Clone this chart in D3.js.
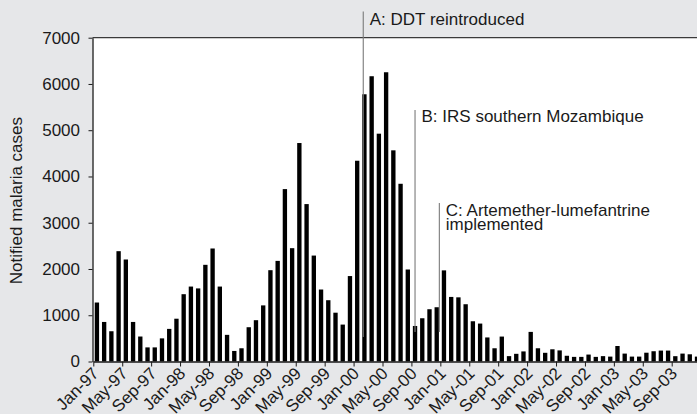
<!DOCTYPE html>
<html>
<head>
<meta charset="utf-8">
<script src="https://cdn.jsdelivr.net/npm/d3@7"></script>
<style>
  html, body { margin: 0; padding: 0; background: #e6e7e9; }
  svg { display: block; }
  text { font-family: "Liberation Sans", Arial, Helvetica, sans-serif; fill: #1a1a1a; }
</style>
</head>
<body>
<svg id="chart" width="697" height="414"></svg>
<script>
// ---- data ----
const years = ["97", "98", "99", "00", "01", "02", "03"];
const monthNames = ["Jan", "Feb", "Mar", "Apr", "May", "Jun", "Jul", "Aug", "Sep", "Oct", "Nov", "Dec"];
const months = years.flatMap(yr => monthNames.map(m => m + "-" + yr));

const cases1997 = [1275, 855, 654, 2385, 2205, 855, 540, 305, 305, 500, 705, 925];
const cases1998 = [1455, 1620, 1580, 2090, 2443, 1620, 576, 228, 286, 741, 893, 1213];
const cases1999 = [1974, 2175, 3727, 2450, 4723, 3403, 2290, 1556, 1325, 1055, 798, 1847];
const cases2000 = [4340, 5777, 6167, 4925, 6253, 4565, 3842, 1989, 768, 935, 1130, 1173];
const cases2001 = [1970, 1396, 1387, 1238, 870, 820, 520, 286, 539, 116, 166, 218];
const cases2002 = [640, 286, 188, 264, 240, 124, 100, 100, 150, 100, 116, 106];
const cases2003 = [335, 171, 106, 106, 190, 222, 236, 236, 115, 171, 156, 106];
const cases = [].concat(cases1997, cases1998, cases1999, cases2000, cases2001, cases2002, cases2003);

const yTicks = [0, 1000, 2000, 3000, 4000, 5000, 6000, 7000];
const xTickLabels = ["Jan-97", "May-97", "Sep-97", "Jan-98", "May-98", "Sep-98", "Jan-99", "May-99", "Sep-99",
  "Jan-00", "May-00", "Sep-00", "Jan-01", "May-01", "Sep-01", "Jan-02", "May-02", "Sep-02",
  "Jan-03", "May-03", "Sep-03"];

const annotations = [
  { key: "A", lines: ["A: DDT reintroduced"], month: "Feb-00" },
  { key: "B", lines: ["B: IRS southern Mozambique"], month: "Sep-00" },
  { key: "C", lines: ["C: Artemether-lumefantrine", "implemented"], month: "Jan-01" }
];

// ---- layout ----
const W = 697, H = 414;
const pLeft = 92.5, pTop = 37.7, pBottom = 361.5;
const mStep = 7.23;
const pRight = pLeft + 0.8 + months.length * mStep;
const FS = 17;

const svg = d3.select("#chart");
svg.append("rect").attr("width", W).attr("height", H).attr("fill", "#e6e7e9");

const x = d3.scaleBand().domain(months).range([pLeft + 0.8, pRight]).paddingInner(0.4).paddingOuter(0.2);
const y = d3.scaleLinear().domain([0, 7000]).range([pBottom, pTop]);
const tickPos = m => x(m) - x.step() * x.paddingOuter();

// plot area
svg.append("rect").attr("x", pLeft).attr("y", pTop).attr("width", pRight - pLeft + 10).attr("height", pBottom - pTop).attr("fill", "#ffffff");
svg.append("line").attr("x1", pLeft).attr("x2", W).attr("y1", pTop).attr("y2", pTop)
  .attr("stroke", "#3a3a3a").attr("stroke-width", 1.2);

// bars
svg.append("g").selectAll("rect").data(months).join("rect")
  .attr("x", m => x(m))
  .attr("width", x.bandwidth())
  .attr("y", (m, i) => y(cases[i]))
  .attr("height", (m, i) => y(0) - y(cases[i]))
  .attr("fill", "#000000");

// annotation lines and labels
const annX = {
  A: x("Feb-00") + 1,
  B: x("Sep-00") + x.bandwidth() / 2,
  C: tickPos("Jan-01") - 1
};
const annGeom = {
  A: { y1: 11.5, y2: 337, ty: [24.5] },
  B: { y1: 110, y2: 332, ty: [122.3] },
  C: { y1: 203, y2: 332, ty: [216, 230] }
};
const ag = svg.append("g");
annotations.forEach(a => {
  const g = annGeom[a.key];
  ag.append("line").attr("x1", annX[a.key]).attr("x2", annX[a.key])
    .attr("y1", g.y1).attr("y2", g.y2).attr("stroke", "#7a7a7a").attr("stroke-width", 1.1);
  const t = ag.append("text").attr("x", annX[a.key] + 6.5).attr("y", g.ty[0]).attr("font-size", FS);
  a.lines.forEach((s, k) => {
    t.append("tspan").attr("x", annX[a.key] + 6.5).attr("y", g.ty[k]).text(s);
  });
});

// y axis
const yAxis = svg.append("g").attr("transform", `translate(${pLeft},0)`)
  .call(d3.axisLeft(y).tickValues(yTicks).tickFormat(d3.format("d")).tickSize(4).tickSizeOuter(0).tickPadding(8.5));
yAxis.select(".domain").attr("stroke", "#1a1a1a").attr("stroke-width", 1.3);
yAxis.selectAll(".tick line").attr("stroke", "#1a1a1a");
yAxis.selectAll("text").attr("font-size", FS).attr("font-family", "Liberation Sans, Arial, sans-serif").attr("fill", "#1a1a1a");

// x axis
const xIdx = d3.scaleLinear().domain([0, months.length])
  .range([tickPos(months[0]), tickPos(months[0]) + months.length * x.step()]);
const xAxis = svg.append("g").attr("transform", `translate(0,${pBottom})`)
  .call(d3.axisBottom(xIdx)
    .tickValues(xTickLabels.map(l => months.indexOf(l)))
    .tickFormat(i => months[i])
    .tickSize(5).tickSizeOuter(0));
xAxis.select(".domain").attr("stroke", "#1a1a1a").attr("stroke-width", 1.3);
xAxis.selectAll(".tick line").attr("stroke", "#1a1a1a");
xAxis.selectAll("text")
  .attr("font-size", FS).attr("font-family", "Liberation Sans, Arial, sans-serif").attr("fill", "#1a1a1a")
  .attr("text-anchor", "end").attr("x", 0).attr("y", 0).attr("dy", 0)
  .attr("transform", "translate(6,13) rotate(-45)");

// y title
svg.append("text").attr("transform", `translate(21.5,${(pTop + pBottom) / 2 + 1}) rotate(-90)`)
  .attr("text-anchor", "middle").attr("font-size", FS).text("Notified malaria cases");
</script>
</body>
</html>
